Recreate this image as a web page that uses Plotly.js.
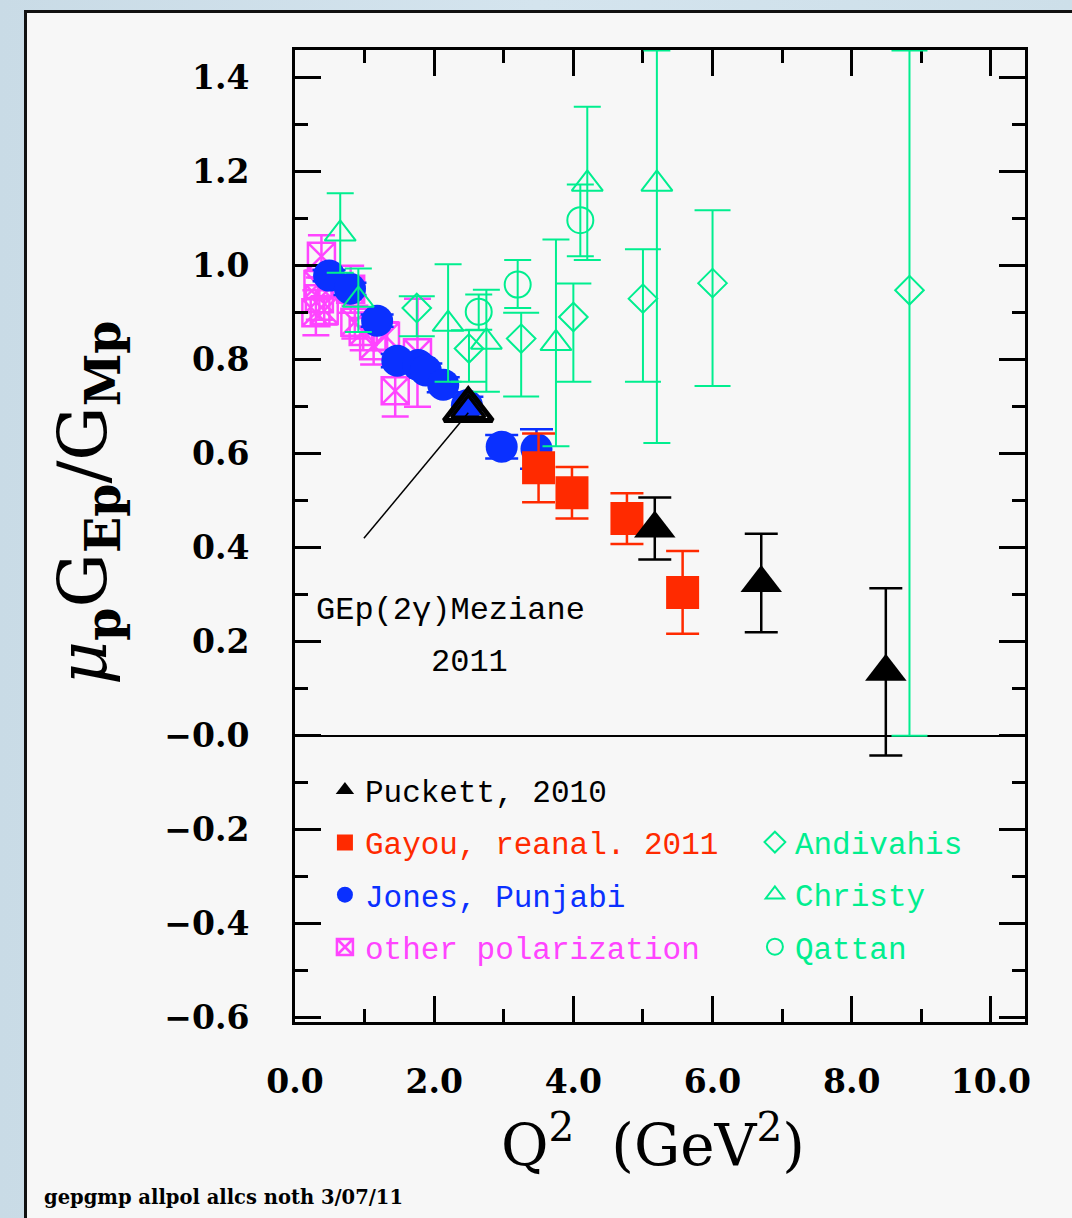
<!DOCTYPE html>
<html>
<head>
<meta charset="utf-8">
<script src="https://cdn.plot.ly/plotly-3.0.1.min.js"></script>
<style>
html,body{margin:0;padding:0;width:1072px;height:1218px;overflow:hidden;
  background:linear-gradient(90deg,#c9dbe6 0%,#d4e4ee 50%,#cddfe9 100%);}
#frame{position:absolute;left:24px;top:10px;width:1048px;height:1208px;
  border-left:3px solid #111;border-top:3px solid #111;background:#f7f7f7;}
#plot{width:1045px;height:1205px;}
</style>
</head>
<body>
<div id="frame"><div id="plot"></div></div>
<script>
// ---------------- data ----------------
// Puckett 2010 (black filled triangles)
const puckettQ2  = [5.17, 6.70, 8.49];
const puckettR   = [0.441, 0.325, 0.136];
const puckettErr = [0.066, 0.105, 0.178];

// Gayou, reanalysed 2011 (red filled squares)
const gayouQ2  = [3.50, 3.98, 4.77, 5.57];
const gayouR   = [0.570, 0.517, 0.462, 0.305];
const gayouErr = [0.073, 0.055, 0.054, 0.088];

// Jones, Punjabi (blue filled circles)
const jonesQ2  = [0.49, 0.79, 1.18, 1.47, 1.77, 1.88, 2.13, 2.47, 2.97, 3.47];
const jonesR   = [0.979, 0.951, 0.883, 0.798, 0.789, 0.777, 0.747, 0.703, 0.615, 0.610];
const jonesErr = [0.012, 0.013, 0.013, 0.014, 0.014, 0.015, 0.016, 0.018, 0.025, 0.042];

// other polarization (magenta open squares with cross)
const otherQ2  = [0.30, 0.33, 0.35, 0.38, 0.42, 0.80, 0.86, 0.98, 1.13, 1.30, 1.44, 1.76];
const otherR   = [0.900, 0.960, 0.930, 1.020, 0.905, 0.950, 0.880, 0.860, 0.830, 0.850, 0.734, 0.815];
const otherErr = [0.048, 0.030, 0.045, 0.045, 0.030, 0.050, 0.035, 0.040, 0.040, 0.030, 0.055, 0.115];

// Andivahis (green open diamonds), asymmetric errors
const andivQ2    = [1.75, 2.50, 3.25, 4.00, 5.00, 6.00, 8.83];
const andivR     = [0.910, 0.824, 0.845, 0.891, 0.930, 0.963, 0.948];
const andivPlus  = [0.025, 0.039, 0.055, 0.071, 0.105, 0.155, 0.510];
const andivMinus = [0.060, 0.071, 0.123, 0.138, 0.177, 0.219, 0.948];

// Christy (green open triangles)
const christyQ2    = [0.65, 0.91, 2.20, 2.75, 3.75, 4.20, 5.20];
const christyR     = [1.068, 0.927, 0.876, 0.838, 0.835, 1.174, 1.174];
const christyPlus  = [0.086, 0.067, 0.127, 0.111, 0.221, 0.164, 0.284];
const christyMinus = [0.083, 0.068, 0.123, 0.106, 0.219, 0.162, 0.551];

// Qattan (green open circles)
const qattanQ2    = [2.64, 3.20, 4.10];
const qattanR     = [0.902, 0.960, 1.097];
const qattanPlus  = [0.037, 0.052, 0.076];
const qattanMinus = [0.038, 0.050, 0.077];

// GEp(2gamma) Meziane 2011 (black open triangles)
const mezQ2 = [2.49, 2.49];
const mezR  = [0.693, 0.693];

// axis ticks
const xTickVals = [0, 2, 4, 6, 8, 10];
const xTickText = ['0.0', '2.0', '4.0', '6.0', '8.0', '10.0'];
const yTickVals = [-0.6, -0.4, -0.2, 0, 0.2, 0.4, 0.6, 0.8, 1.0, 1.2, 1.4];
const yTickText = ['\u22120.6', '\u22120.4', '\u22120.2', '\u22120.0', '0.2', '0.4', '0.6', '0.8', '1.0', '1.2', '1.4'];

// ---------------- styles ----------------
const BLACK = '#000000', RED = '#ff2a00', BLUE = '#0a30ff', MAG = '#ff44ff', GREEN = '#00ee8f';
const span = (c, t) => '<span style="color:' + c + '">' + t + '</span>';

const traces = [
  { x: puckettQ2, y: puckettR, type: 'scatter', mode: 'markers', name: span(BLACK, 'Puckett, 2010'),
    legend: 'legend', legendgroup: 'g1', zorder: 3,
    marker: { symbol: 'triangle-up', size: 36, color: BLACK },
    error_y: { type: 'data', array: puckettErr, color: BLACK, thickness: 2.5, width: 16.5 } },
  { x: gayouQ2, y: gayouR, type: 'scatter', mode: 'markers', name: span(RED, 'Gayou, reanal. 2011'),
    legend: 'legend', legendgroup: 'g2', zorder: 2,
    marker: { symbol: 'square', size: 33, color: RED },
    error_y: { type: 'data', array: gayouErr, color: RED, thickness: 2.5, width: 16.5 } },
  { x: jonesQ2, y: jonesR, type: 'scatter', mode: 'markers', name: span(BLUE, 'Jones, Punjabi'),
    legend: 'legend', legendgroup: 'g3', zorder: 1,
    marker: { symbol: 'circle', size: 32, color: BLUE },
    error_y: { type: 'data', array: jonesErr, color: BLUE, thickness: 2.5, width: 16.5 } },
  { x: otherQ2, y: otherR, type: 'scatter', mode: 'markers', name: span(MAG, 'other polarization'),
    legend: 'legend', legendgroup: 'g4', zorder: 0,
    marker: { symbol: 'square-x-open', size: 27, color: MAG, line: { width: 2.5, color: MAG } },
    error_y: { type: 'data', array: otherErr, color: MAG, thickness: 2.5, width: 13.5 } },
  { x: andivQ2, y: andivR, type: 'scatter', mode: 'markers', name: span(GREEN, 'Andivahis'),
    legend: 'legend2', legendgroup: 'h1', zorder: 4,
    marker: { symbol: 'diamond-open', size: 22, color: GREEN, line: { width: 2, color: GREEN } },
    error_y: { type: 'data', symmetric: false, array: andivPlus, arrayminus: andivMinus, color: GREEN, thickness: 2, width: 18 } },
  { x: christyQ2, y: christyR, type: 'scatter', mode: 'markers', name: span(GREEN, 'Christy'),
    legend: 'legend2', legendgroup: 'h2', zorder: 4,
    marker: { symbol: 'triangle-up-open', size: 27, color: GREEN, line: { width: 2, color: GREEN } },
    error_y: { type: 'data', symmetric: false, array: christyPlus, arrayminus: christyMinus, color: GREEN, thickness: 2, width: 13.5 } },
  { x: qattanQ2, y: qattanR, type: 'scatter', mode: 'markers', name: span(GREEN, 'Qattan'),
    legend: 'legend2', legendgroup: 'h3', zorder: 4,
    marker: { symbol: 'circle-open', size: 26, color: GREEN, line: { width: 2, color: GREEN } },
    error_y: { type: 'data', symmetric: false, array: qattanPlus, arrayminus: qattanMinus, color: GREEN, thickness: 2, width: 13.5 } },
  { x: mezQ2, y: mezR, type: 'scatter', mode: 'markers', name: 'GEp(2\u03b3) Meziane 2011', showlegend: false,
    zorder: 5,
    marker: { symbol: 'triangle-up-open', size: [42, 29], color: BLACK, opacity: 1,
      line: { width: [5, 3.5], color: BLACK } } }
];

const tickFont = { family: 'DejaVu Serif', size: 33, color: '#000', weight: 'bold' };
const legFont = { family: 'Liberation Mono', size: 31, color: '#000' };

const layout = {
  width: 1045, height: 1205,
  paper_bgcolor: '#f7f7f7', plot_bgcolor: '#f7f7f7',
  margin: { l: 268, r: 47, t: 37, b: 196 },
  showlegend: true,
  xaxis: {
    range: [0, 10.49], tickmode: 'array', tickvals: xTickVals, ticktext: xTickText,
    ticks: 'inside', ticklen: 26, tickwidth: 3, tickcolor: '#000', mirror: 'allticks',
    showline: true, linewidth: 3, linecolor: '#000', showgrid: false, zeroline: false,
    minor: { dtick: 1, tick0: 0, ticks: 'inside', ticklen: 13, tickwidth: 3, tickcolor: '#000', showgrid: false },
    tickfont: tickFont, ticklabelstandoff: 28
  },
  yaxis: {
    range: [-0.609, 1.459], tickmode: 'array', tickvals: yTickVals, ticktext: yTickText,
    ticks: 'inside', ticklen: 26, tickwidth: 3, tickcolor: '#000', mirror: 'allticks',
    showline: true, linewidth: 3, linecolor: '#000', showgrid: false,
    zeroline: true, zerolinecolor: '#000', zerolinewidth: 2,
    minor: { dtick: 0.1, tick0: 0, ticks: 'inside', ticklen: 13, tickwidth: 3, tickcolor: '#000', showgrid: false },
    tickfont: tickFont, ticklabelstandoff: 36
  },
  legend: { x: 0.041, y: 0.266, xanchor: 'left', yanchor: 'top', bgcolor: 'rgba(0,0,0,0)',
    font: legFont, traceorder: 'grouped', tracegroupgap: 9, itemwidth: 30 },
  legend2: { x: 0.630, y: 0.2125, xanchor: 'left', yanchor: 'top', bgcolor: 'rgba(0,0,0,0)',
    font: legFont, traceorder: 'grouped', tracegroupgap: 9, itemwidth: 30 },
  shapes: [
    { type: 'line', xref: 'x', yref: 'y', x0: 0.99, y0: 0.420, x1: 2.49, y1: 0.687,
      line: { color: '#000', width: 1.5 } }
  ],
  annotations: [
    { xref: 'x', yref: 'y', x: 2.23, y: 0.267, text: 'GEp(2\u03b3)Meziane', showarrow: false,
      font: { family: 'Liberation Mono', size: 32, color: '#000' } },
    { xref: 'x', yref: 'y', x: 2.51, y: 0.156, text: '2011', showarrow: false,
      font: { family: 'Liberation Mono', size: 32, color: '#000' } },
    { xref: 'paper', yref: 'paper', x: -0.285, y: 0.535, xanchor: 'center', yanchor: 'middle',
      textangle: -90, showarrow: false,
      text: '<i>\u03bc</i><sub><b>p</b></sub>G<sub><b>Ep</b></sub>/G<sub><b>Mp</b></sub>',
      font: { family: 'DejaVu Serif', size: 68, color: '#000' } },
    { xref: 'paper', yref: 'paper', x: 0.49, y: -0.122, xanchor: 'center', yanchor: 'middle',
      showarrow: false, text: 'Q<sup>2</sup>\u00a0\u00a0(GeV<sup>2</sup>)',
      font: { family: 'DejaVu Serif', size: 58, color: '#000' } },
    { xref: 'paper', yref: 'paper', x: -0.3466, y: -0.181, xanchor: 'left', yanchor: 'middle',
      showarrow: false, text: 'gepgmp allpol allcs noth 3/07/11',
      font: { family: 'DejaVu Serif', size: 19.5, color: '#000', weight: 'bold' } }
  ]
};

Plotly.newPlot('plot', traces, layout, { displayModeBar: false, staticPlot: true });
</script>
</body>
</html>
